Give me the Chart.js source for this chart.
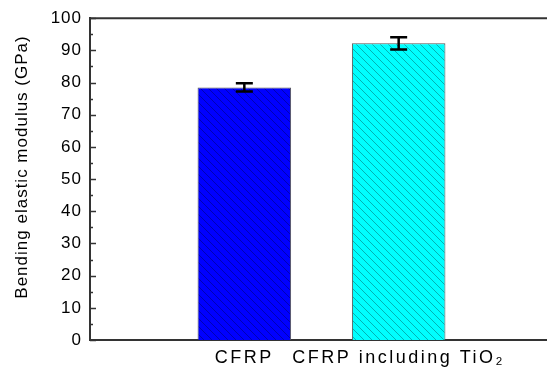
<!DOCTYPE html>
<html>
<head>
<meta charset="utf-8">
<script src="https://cdn.jsdelivr.net/npm/chart.js@4.4.0/dist/chart.umd.min.js"></script>
<style>
  html, body { margin: 0; padding: 0; background: #fff; overflow: hidden; }
  #wrap { width: 560px; height: 371px; }
</style>
</head>
<body>
<div id="wrap"><canvas id="chart" width="560" height="371"></canvas></div>
<script>
// data
const categories = ['', 'CFRP', 'CFRP including TiO₂', ''];
const modulus = [null, 78.5, 92.2, null];
const modulusErr = [null, 1.3, 1.9, null];
const yTicks = [0, 10, 20, 30, 40, 50, 60, 70, 80, 90, 100];
const yTitle = 'Bending elastic modulus (GPa)';

const FONT = '"Liberation Sans", Arial, sans-serif';

// hatched fill
function hatch(base, line) {
    const s = 8;
    const c = document.createElement('canvas');
    c.width = s; c.height = s;
    const g = c.getContext('2d');
    g.fillStyle = base;
    g.fillRect(0, 0, s, s);
    g.strokeStyle = line;
    g.lineWidth = 1;
    for (let k = -1; k <= 1; k++) {
        g.beginPath();
        g.moveTo(k * s, 0);
        g.lineTo(k * s + s, s);
        g.stroke();
    }
    return g.createPattern(c, 'repeat');
}

const fills = [null, hatch('#0000ff', '#0000b4'), hatch('#00ffff', '#00b4b4'), null];

// error bars, inward ticks, frame top, y title
// (the original's lettering is loosely spaced, so letterSpacing is switched per layer)
const extras = {
    id: 'extras',
    beforeDraw(chart) {
        chart.ctx.letterSpacing = '1px';
    },
    afterDatasetsDraw(chart) {
        const ctx = chart.ctx;
        const y = chart.scales.y;
        const meta = chart.getDatasetMeta(0);
        ctx.save();
        ctx.strokeStyle = '#000';
        ctx.lineWidth = 2.5;
        meta.data.forEach((el, i) => {
            if (modulus[i] == null) return;
            const top = y.getPixelForValue(modulus[i] + modulusErr[i]);
            const bot = y.getPixelForValue(modulus[i] - modulusErr[i]);
            ctx.beginPath();
            ctx.moveTo(el.x, top); ctx.lineTo(el.x, bot);
            ctx.moveTo(el.x - 8.5, top); ctx.lineTo(el.x + 8.5, top);
            ctx.moveTo(el.x - 8.5, bot); ctx.lineTo(el.x + 8.5, bot);
            ctx.stroke();
        });
        ctx.restore();
        // x labels are drawn next (their ticks layer has z: 1)
        ctx.letterSpacing = '2.5px';
    },
    afterDraw(chart) {
        const ctx = chart.ctx;
        const a = chart.chartArea;
        const y = chart.scales.y;
        ctx.save();
        ctx.letterSpacing = '0px';
        ctx.strokeStyle = '#333';
        ctx.lineWidth = 1.5;
        for (let v = 0; v <= 100; v += 5) {
            const py = Math.round(y.getPixelForValue(v)) + 0.5;
            const len = v % 10 === 0 ? 6 : 3;
            ctx.beginPath();
            ctx.moveTo(a.left, py);
            ctx.lineTo(a.left + len, py);
            ctx.stroke();
        }
        ctx.lineWidth = 2;
        ctx.beginPath();
        ctx.moveTo(a.left, a.top);
        ctx.lineTo(a.right, a.top);
        ctx.stroke();

        ctx.letterSpacing = '1px';
        ctx.fillStyle = '#000';
        ctx.font = '17px ' + FONT;
        ctx.textAlign = 'center';
        ctx.textBaseline = 'middle';
        ctx.translate(22, 167);
        ctx.rotate(-Math.PI / 2);
        ctx.fillText(yTitle, 0, 0);
        ctx.restore();
        ctx.letterSpacing = '0px';
    }
};

new Chart(document.getElementById('chart'), {
    type: 'bar',
    data: {
        labels: categories,
        datasets: [{
            data: modulus,
            backgroundColor: fills,
            borderColor: '#555',
            borderWidth: 1,
            categoryPercentage: 1,
            barPercentage: 0.606
        }]
    },
    options: {
        responsive: false,
        animation: false,
        layout: { padding: { top: 18, right: 5, left: 0, bottom: 0 } },
        plugins: {
            legend: { display: false },
            tooltip: { enabled: false }
        },
        scales: {
            x: {
                offset: false,
                grid: { display: false, tickLength: 0 },
                border: { display: true, color: '#333', width: 2 },
                ticks: {
                    z: 1,
                    autoSkip: false,
                    maxRotation: 0,
                    color: '#000',
                    padding: 7,
                    font: { size: 18, family: FONT }
                },
                afterFit(s) { s.height = 31; }
            },
            y: {
                min: 0,
                max: 100,
                afterBuildTicks(s) { s.ticks = yTicks.map(v => ({ value: v })); },
                grid: { display: false, tickLength: 0 },
                border: { display: true, color: '#333', width: 2 },
                ticks: {
                    color: '#000',
                    padding: 8,
                    font: { size: 17, family: FONT }
                },
                afterFit(s) { s.width = 90; }
            }
        }
    },
    plugins: [extras]
});
</script>
</body>
</html>
